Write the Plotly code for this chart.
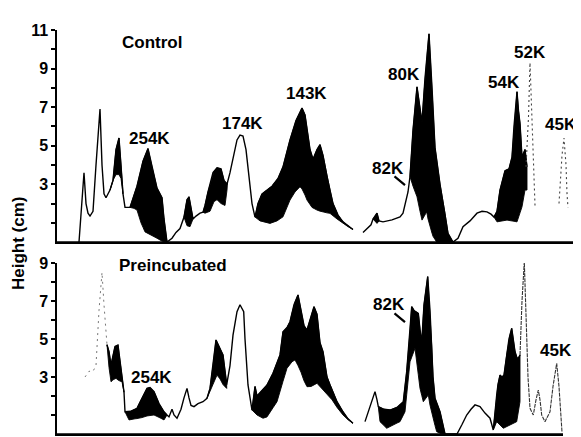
import numpy as np
import plotly.graph_objects as go

# ---------------- Control (top panel) ----------------
# densitometer trace: migration distance (arbitrary units) vs height (cm)
ctrl_x = [22, 24, 27, 29, 31, 33, 36, 39, 43, 45, 47, 49, 53, 56, 59, 62, 64, 66, 68, 73,
          80, 86, 91, 95, 100, 105, 107, 110, 115, 119, 123, 127, 130, 132, 134, 136, 139, 143,
          146, 148, 151, 156, 160, 164, 167, 170, 173, 176, 180, 183, 186, 189, 192, 195, 198,
          201, 205, 215, 221, 226, 233, 239, 245, 248, 253, 256, 260, 263, 266, 270, 276, 281,
          286, 291, 296, None,
          306, 310, 314, 316, 320, 322, 326, 335, 343, 346, 348, 351, 353, 356, 360, 362.5, 365,
          368, 372, 375, 378, 383, 388, 391, 396, 401, 406, 413, 420, 425, 430, 434, 437, 440,
          443, 448, 452, 455, 457, 460, 461.5, 463, 465, 466.5, 468, 470]
ctrl_y = [0, 1.5, 3.6, 2.0, 1.5, 1.35, 1.6, 4.0, 6.9, 4.0, 2.5, 2.3, 2.7, 3.2, 4.8, 5.4, 4.0, 2.5, 1.8, 1.8,
          2.9, 4.2, 4.85, 3.9, 2.8, 2.3, 1.2, 0, 0.2, 0.5, 0.7, 1.3, 2.2, 2.35, 1.8, 1.2, 1.35, 1.5,
          1.55, 1.9, 2.6, 3.6, 3.85, 3.8, 3.2, 3.0, 3.6, 4.4, 5.3, 5.55, 5.5, 4.8, 3.3, 2.0, 1.3,
          2.0, 2.5, 2.9, 3.3, 3.9, 5.3, 6.3, 6.95, 6.6, 4.8, 4.3, 4.8, 5.05, 4.5, 3.4, 2.0, 1.4,
          1.05, 0.85, 0.65, None,
          0.5, 0.7, 0.9, 1.2, 1.5, 1.1, 1.05, 1.15, 1.3, 1.5, 1.9, 2.6, 3.4, 5.8, 8.05, 7.2, 6.2,
          8.5, 10.8, 8.0, 4.9, 3.0, 1.5, 0.45, 0, 0.2, 0.8, 1.1, 1.5, 1.6, 1.57, 1.45, 1.3, 1.6,
          2.7, 3.7, 3.8, 4.4, 6.0, 7.8, 6.8, 6.15, 4.4, 4.6, 4.8, 3.9]
# lower edge of the shaded (black) bands, bands separated by None
ctrl_band_x = [53, 56, 59, 62, 64, 66, None,
               73, 77, 80, 84, 88, 95, 100, 105, 110, None,
               127, 130, 133, 136, None,
               146, 148, 153, 157, 160, 164, 168, 170.5, None,
               198, 203, 213, 220, 226, 233, 238, 243, 246, 250, 255, 260, 266, 273, 280, 286, 291, 296, None,
               316, 320, 322, None,
               353, 356, 360, 363, 365, 367, 369.7, 371, 373, 376, 379.7, 396, None,
               437, 440, 445, 450, 455, 460, 465, 468, 470]
ctrl_band_y = [2.7, 3.2, 3.5, 3.5, 3.3, 2.5, None,
               1.8, 1.75, 1.66, 1.0, 0.53, 0.35, 0.2, 0.05, 0, None,
               1.3, 0.85, 0.8, 1.2, None,
               1.55, 1.5, 1.6, 2.1, 2.2, 2.0, 1.9, 2.9, None,
               1.3, 1.1, 0.97, 1.1, 1.31, 2.18, 2.6, 2.87, 2.7, 2.18, 1.8, 1.66, 1.55, 1.49, 1.2, 0.97, 0.8, 0.65, None,
               1.2, 0.97, 1.1, None,
               3.4, 2.9, 2.35, 1.6, 1.14, 1.3, 1.57, 1.2, 0.79, 0.3, 0, 0, None,
               1.3, 1.05, 1.1, 1.14, 1.1, 1.05, 1.83, 2.7, 2.7]
# faint (dotted) parts of the trace
ctrl_faint_x = [469, 471.5, 473, 475, 477, 478]
ctrl_faint_y = [3.9, 6.5, 9.3, 6.0, 3.0, 1.9]
ctrl_faint2_x = [502, 505, 507, 509, 510, 511]
ctrl_faint2_y = [2.0, 4.5, 5.4, 4.0, 2.5, 1.8]

# ---------------- Preincubated (bottom panel) ----------------
pre_x = [50, 52, 54, 56, 58, 61, 63, 65, 67, 68, 74, 80, 85, 90, 93, 97, 102, 107, 110, 112,
         115, 117, 120, 124, 127, 130, 132, 134, 137, 141, 146, 150, 153, 156, 159, 163, 166,
         169.7, 173, 176, 180, 183, 186.7, 188, 191, 195, 198, 200, 205, 210, 216, 223, 226,
         230, 233, 237, 241, 244, 247, 250, 254, 257, 260, 263, 266, 270, 273, 280, 286, 291,
         296, None,
         308, 312, 316, 318, 320, 321.3, 327, 333, 340, 346.3, 349.7, 353, 354.7, 357, 361.3,
         363, 364.7, 367, 370.7, 373, 374.7, 376, 378, 383, 388, 400, 405, 409.7, 414, 418,
         423, 428, 433, 436.3, 439.7, 441, 443, 445, 447, 449.7, 452, 454.7, 456, 458, 460,
         461.3, 463]
pre_y = [4.7, 4.33, 3.63, 4.2, 4.6, 4.68, 3.8, 2.75, 2.2, 1.17, 1.2, 1.35, 1.9, 2.4, 2.45, 2.23, 1.6, 1.17, 1.0, 0.9,
         1.3, 1.0, 0.83, 1.3, 1.9, 2.4, 1.9, 1.5, 1.44, 1.6, 1.7, 1.88, 2.4, 3.6, 4.95, 4.5, 4.16,
         2.6, 3.6, 5.2, 6.44, 6.8, 6.44, 5.0, 2.58, 1.26, 2.5, 2.0, 2.3, 2.58, 3.2, 4.16, 5.38,
         5.6, 5.91, 6.8, 7.32, 6.6, 5.7, 5.47, 6.2, 6.7, 6.3, 4.8, 4.33, 3.0, 2.58, 1.7, 1.17, 0.8,
         0.56, None,
         0.65, 1.3, 2.0, 2.23, 1.8, 1.44, 1.3, 1.26, 1.4, 1.7, 3.28, 5.38, 6.7, 6.5, 6.35,
         5.5, 4.77, 6.8, 8.28, 6.5, 4.68, 3.0, 1.88, 1.17, 0, 0, 0.5, 1.0, 1.3, 1.53,
         1.44, 1.1, 0.83, 0.21, 2.05, 2.6, 3.1, 3.0, 3.1, 4.16, 5.0, 5.56, 5.0, 4.33, 4.0,
         3.98, 4.16]
pre_band_x = [50, 52, 54, 57, 59, 62, 65, 67, None,
              68, 72, 78, 83, 90, 97, 103, 107, 110, None,
              150, 153, 156, 160, 163, 166, 169.7, None,
              195, 200, 206, 210, 215, 220, 225, 230, 235, 238, 243, 247, 250, 254, 260, 265, 270, 275, 280, 286, 291, 296, None,
              321.3, 323, 329.7, 337, 343, 348, 353, 358, 363, 366.3, 371.3, 374, 379.7, 384.7, 388, None,
              436.3, 439.7, 446.3, 453, 459.7, 463]
pre_band_y = [4.7, 3.5, 2.75, 2.9, 2.93, 2.8, 2.75, 2.2, None,
              1.17, 0.74, 0.8, 0.83, 0.95, 1.0, 0.85, 0.74, 1.0, None,
              1.88, 2.2, 2.6, 3.1, 2.9, 2.6, 2.4, None,
              1.26, 1.0, 0.83, 0.9, 1.3, 1.7, 2.6, 3.46, 3.8, 3.9, 3.4, 2.8, 2.49, 2.5, 2.67, 2.4, 2.1, 1.8, 1.4, 1.0, 0.75, 0.56, None,
              1.44, 0.65, 0.3, 0.5, 0.65, 1.17, 3.8, 4.51, 2.4, 1.7, 2.05, 1.2, 0.12, 0, 0, None,
              0.21, 0.65, 0.3, 0.47, 0.65, 1.7]
pre_faint_left_x = [28, 32, 36, 39, 42, 45, 47, 49, 50]
pre_faint_left_y = [3.0, 3.3, 3.3, 3.6, 6.5, 8.5, 6.8, 5.4, 4.7]
pre_faint_x = [463, 465, 467.3, 469, 471, 473, 476.3, 479, 481.3, 483, 484.7, 488, 493, 496,
               499.7, 502, 504.7, 505]
pre_faint_y = [4.16, 7.0, 9.07, 6.0, 3.0, 1.35, 1.0, 1.8, 2.31, 1.8, 1.0, 0.65, 1.17, 2.5,
               3.72, 2.5, 0.65, 0.1]

ctrl_ticks = [1, 2, 3, 4, 5, 6, 7, 8, 9, 10, 11]
ctrl_ticktext = ["", "", "3", "", "5", "", "7", "", "9", "", "11"]
pre_ticks = [1, 2, 3, 4, 5, 6, 7, 8, 9]
pre_ticktext = ["", "", "3", "", "5", "", "7", "", "9"]
ctrl_xmax = 516
pre_xmax = 506


def segments(xs, ys):
    segs, cx, cy = [], [], []
    for x, y in zip(xs, ys):
        if x is None:
            if cx:
                segs.append((cx, cy))
            cx, cy = [], []
        else:
            cx.append(x)
            cy.append(y)
    if cx:
        segs.append((cx, cy))
    return segs


def band_polygons(main_x, main_y, band_x, band_y):
    mains = segments(main_x, main_y)
    polys = []
    for bx, by in segments(band_x, band_y):
        a, b = bx[0], bx[-1]
        mx, my = mains[0]
        for sx, sy in mains:
            if sx[0] <= a and sx[-1] >= b:
                mx, my = sx, sy
                break
        grid = sorted(set([v for v in mx if a <= v <= b] + bx))
        hi = np.interp(grid, mx, my)
        lo = np.minimum(np.interp(grid, bx, by), hi)
        polys.append((grid + grid[::-1], list(hi) + list(lo[::-1])))
    return polys


fig = go.Figure()

FONT = "Liberation Sans"


def add_panel(xs, ys, bx, by, xa, ya):
    for px, py in band_polygons(xs, ys, bx, by):
        fig.add_trace(go.Scatter(x=px, y=py, xaxis=xa, yaxis=ya, mode="lines",
                                 fill="toself", fillcolor="black",
                                 line=dict(color="black", width=0.9),
                                 hoverinfo="skip", showlegend=False))
    fig.add_trace(go.Scatter(x=xs, y=ys, xaxis=xa, yaxis=ya, mode="lines",
                             line=dict(color="black", width=1.4),
                             connectgaps=False, showlegend=False))


add_panel(ctrl_x, ctrl_y, ctrl_band_x, ctrl_band_y, "x", "y")
for fx, fy in [(ctrl_faint_x, ctrl_faint_y), (ctrl_faint2_x, ctrl_faint2_y)]:
    fig.add_trace(go.Scatter(x=fx, y=fy, xaxis="x", yaxis="y", mode="lines",
                             line=dict(color="#444444", width=1.1, dash="2px,3px"),
                             showlegend=False))
add_panel(pre_x, pre_y, pre_band_x, pre_band_y, "x2", "y2")
fig.add_trace(go.Scatter(x=pre_faint_left_x, y=pre_faint_left_y, xaxis="x2", yaxis="y2", mode="lines",
                         line=dict(color="#777777", width=1.0, dash="2px,4px"), showlegend=False))
fig.add_trace(go.Scatter(x=pre_faint_x, y=pre_faint_y, xaxis="x2", yaxis="y2", mode="lines",
                         line=dict(color="#333333", width=1.1, dash="4px,1px"), showlegend=False))

ann = []


def label(text, x, y, xr, yr, size=17):
    ann.append(dict(text=text, x=x, y=y, xref=xr, yref=yr, showarrow=False,
                    font=dict(family=FONT, size=size, color="black", weight="bold"),
                    xanchor="center", yanchor="middle"))


label("Control", 95, 10.36, "x", "y")
label("254K", 92, 5.39, "x", "y")
label("174K", 185, 6.17, "x", "y")
label("143K", 249, 7.72, "x", "y")
label("80K", 347, 8.7, "x", "y")
label("76K", 375, 11.66, "x", "y")
label("82K", 331, 3.83, "x", "y")
label("54K", 447, 8.29, "x", "y")
label("52K", 473, 9.84, "x", "y")
label("45K", 504, 6.11, "x", "y")
label("Preincubated", 116, 8.89, "x2", "y2")
label("254K", 94, 2.95, "x2", "y2")
label("82K", 332, 6.79, "x2", "y2")
label("45K", 499, 4.42, "x2", "y2")

for (hx, hy, xr, yr) in [(348, 2.95, "x", "y"), (348, 5.89, "x2", "y2")]:
    ann.append(dict(text="", x=hx, y=hy, xref=xr, yref=yr, showarrow=True,
                    arrowhead=0, arrowwidth=2.2, arrowcolor="black", ax=-12, ay=-10))

ann.append(dict(text="Height (cm)", x=-0.0736, y=0.4728, xref="paper", yref="paper",
                showarrow=False, textangle=-90, xanchor="center", yanchor="middle",
                font=dict(family=FONT, size=17, color="black", weight="bold")))

shapes = [
    dict(type="line", xref="x", yref="y", x0=0, x1=ctrl_xmax, y0=0, y1=0,
         line=dict(color="black", width=1.5)),
    dict(type="line", xref="x2", yref="y2", x0=0, x1=pre_xmax, y0=0, y1=0,
         line=dict(color="black", width=1.5)),
]

axis_common = dict(showgrid=False, zeroline=False, showline=True, linecolor="black",
                   linewidth=1.5, automargin=False)
# the page body has an 8px margin: the figure is shrunk by 8px and shifted accordingly
fig.update_layout(
    width=573, height=429,
    margin=dict(l=49, r=8, t=22, b=3, autoexpand=False),
    paper_bgcolor="white", plot_bgcolor="white",
    showlegend=False,
    annotations=ann,
    shapes=shapes,
    xaxis=dict(domain=[0, 1], range=[0, ctrl_xmax], anchor="y", showticklabels=False, ticks="",
               **axis_common),
    yaxis=dict(domain=[0.475, 1], range=[0, 11], anchor="x", tickvals=ctrl_ticks,
               ticktext=ctrl_ticktext, ticks="outside", ticklen=4, tickwidth=1.5,
               tickcolor="black",
               tickfont=dict(family=FONT, size=16, color="black", weight="bold"),
               **axis_common),
    xaxis2=dict(domain=[0, pre_xmax / ctrl_xmax], range=[0, pre_xmax], anchor="y2",
                showticklabels=False, ticks="", **axis_common),
    yaxis2=dict(domain=[0, 0.4233], range=[0, 9], anchor="x2", tickvals=pre_ticks,
                ticktext=pre_ticktext, ticks="outside", ticklen=4, tickwidth=1.5,
                tickcolor="black",
                tickfont=dict(family=FONT, size=16, color="black", weight="bold"),
                **axis_common),
)

fig.write_html("out.html")
